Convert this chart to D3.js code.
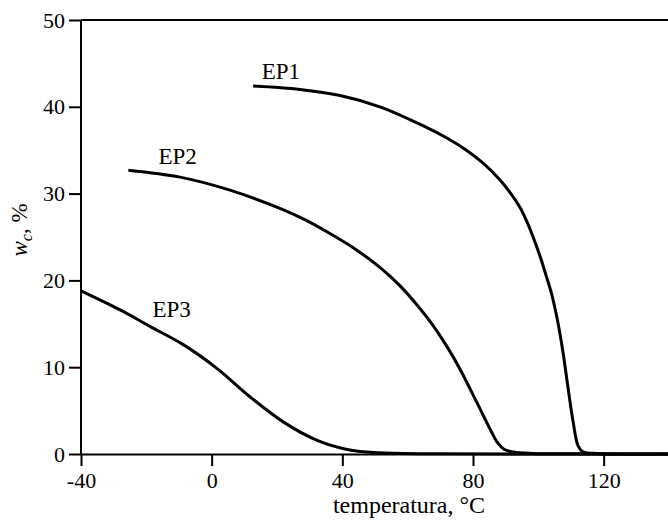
<!DOCTYPE html>
<html>
<head>
<meta charset="utf-8">
<script src="https://cdn.jsdelivr.net/npm/d3@7"></script>
<style>
  html, body { margin: 0; padding: 0; background: #fff; }
  svg { display: block; font-family: "Liberation Serif", "Times New Roman", serif; }
  .axis path, .axis line { stroke: #000; stroke-width: 2; }
</style>
</head>
<body>
<div id="chart"></div>
<script>
// values (temperature in °C, w_c in %)
const xTicks = [-40, 0, 40, 80, 120];
const yTicks = [0, 10, 20, 30, 40, 50];

const ep1T = [12.7, 27, 39.3, 51.5, 63.7, 72, 78, 83.1, 88.2, 91.3, 94.4, 96.4, 98.4, 100.5, 102.5, 104.1, 105.6, 106.6, 107.6, 109.1, 110.7, 112.2, 113.7, 118, 140];
const ep1W = [42.4, 42.0, 41.3, 40.0, 38.0, 36.4, 35.0, 33.5, 31.6, 30.15, 28.4, 26.85, 25.0, 22.8, 20.4, 18.4, 15.9, 13.9, 11.6, 7.6, 3.6, 0.9, 0.25, 0.05, 0];

const ep2T = [-25.5, -9.7, 5.6, 20.9, 28.5, 36.2, 44, 51.5, 57.6, 63.7, 67.8, 72, 76, 81.1, 85.2, 87.5, 89.5, 92.3, 98.3, 110, 140];
const ep2W = [32.7, 31.9, 30.4, 28.3, 27.0, 25.4, 23.6, 21.5, 19.4, 16.8, 14.8, 12.4, 9.8, 6.0, 2.9, 1.3, 0.55, 0.22, 0.06, 0.02, 0];

const ep3T = [-40, -28, -18.9, -8.7, 1.5, 11.7, 21.9, 32.1, 42.3, 51.5, 70, 140];
const ep3W = [18.8, 16.6, 14.7, 12.6, 9.9, 6.6, 3.7, 1.6, 0.46, 0.15, 0.02, 0];

const seriesNames = ["EP1", "EP2", "EP3"];
// label anchor: temperature and value where each label sits
const labelT = [15.3, -16.3, -18.1];
const labelW = [43.2, 33.4, 15.8];

const width = 668, height = 520;
const margin = { left: 81, right: 0, top: 20, bottom: 66 };
const serif = "'Liberation Serif', 'Times New Roman', serif";

const svg = d3.select("#chart").append("svg")
  .attr("width", width)
  .attr("height", height);

const x = d3.scaleLinear().domain([-40, 140]).range([margin.left, 669]);
const y = d3.scaleLinear().domain([0, 50]).range([height - margin.bottom, margin.top]);

// top frame line
svg.append("line")
  .attr("x1", x(-40)).attr("x2", width)
  .attr("y1", y(50)).attr("y2", y(50))
  .attr("stroke", "#000").attr("stroke-width", 2);

const xAxis = svg.append("g").attr("class", "axis")
  .attr("transform", "translate(0," + y(0) + ")")
  .call(d3.axisBottom(x).tickValues(xTicks).tickSize(12).tickSizeOuter(0).tickPadding(6).tickFormat(d => String(d)));

const yAxis = svg.append("g").attr("class", "axis")
  .attr("transform", "translate(" + x(-40) + ",0)")
  .call(d3.axisLeft(y).tickValues(yTicks).tickSize(12).tickSizeOuter(0).tickPadding(4));
yAxis.select(".domain").attr("d", "M0," + y(0) + "V" + y(50));

svg.selectAll(".axis").attr("font-family", serif).attr("font-size", 22);
xAxis.selectAll("text").attr("dy", "0.72em");

// axis titles
svg.append("text")
  .attr("x", 409).attr("y", 513)
  .attr("text-anchor", "middle")
  .attr("font-family", serif)
  .style("font-size", "24px")
  .text("temperatura, °C");

const yTitle = svg.append("text")
  .attr("transform", "translate(27,230) rotate(-90)")
  .attr("text-anchor", "middle")
  .attr("font-family", serif)
  .style("font-size", "23px");
yTitle.append("tspan").style("font-style", "italic").text("w");
yTitle.append("tspan").style("font-style", "italic").style("font-size", "16px").attr("dy", 5).text("c");
yTitle.append("tspan").attr("dy", -5).text(", %");

const line = d3.line()
  .x(d => x(d[0]))
  .y(d => y(Math.max(0, d[1])))
  .curve(d3.curveCatmullRom.alpha(0.5));

const series = [
  d3.zip(ep1T, ep1W),
  d3.zip(ep2T, ep2W),
  d3.zip(ep3T, ep3W)
];

svg.selectAll(".curve").data(series).enter().append("path")
  .attr("class", "curve")
  .attr("d", line)
  .attr("fill", "none")
  .attr("stroke", "#000")
  .attr("stroke-width", 3)
  .attr("stroke-linejoin", "round");

svg.selectAll(".lbl").data(seriesNames).enter().append("text")
  .attr("class", "lbl")
  .attr("x", (d, i) => x(labelT[i]))
  .attr("y", (d, i) => y(labelW[i]))
  .attr("font-family", serif)
  .style("font-size", "23px")
  .text(d => d);
</script>
</body>
</html>
